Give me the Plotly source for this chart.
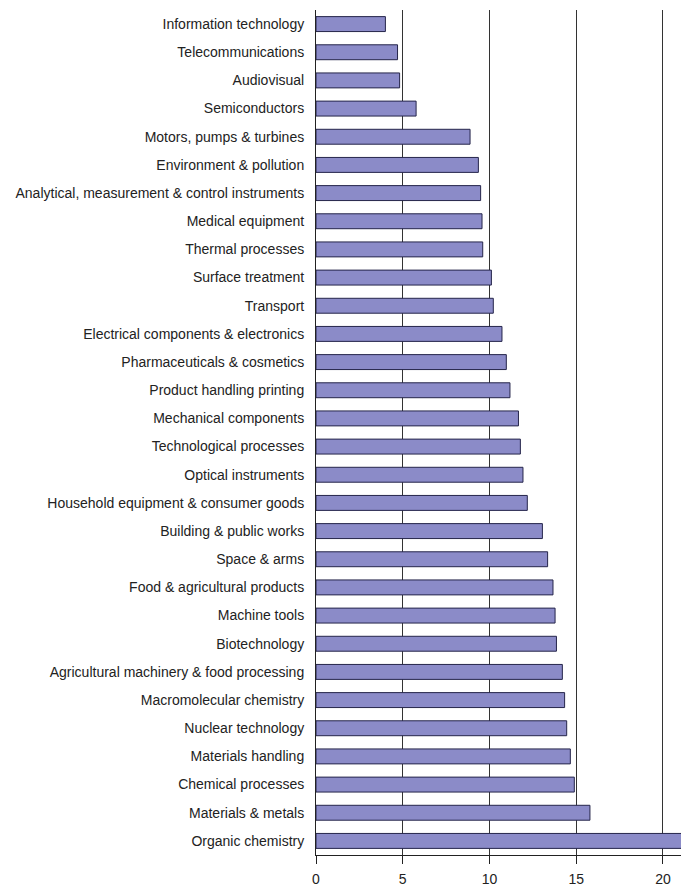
import plotly.graph_objects as go

categories = [
    "Information technology",
    "Telecommunications",
    "Audiovisual",
    "Semiconductors",
    "Motors, pumps & turbines",
    "Environment & pollution",
    "Analytical, measurement & control instruments",
    "Medical equipment",
    "Thermal processes",
    "Surface treatment",
    "Transport",
    "Electrical components & electronics",
    "Pharmaceuticals & cosmetics",
    "Product handling printing",
    "Mechanical components",
    "Technological processes",
    "Optical instruments",
    "Household equipment & consumer goods",
    "Building & public works",
    "Space & arms",
    "Food & agricultural products",
    "Machine tools",
    "Biotechnology",
    "Agricultural machinery & food processing",
    "Macromolecular chemistry",
    "Nuclear technology",
    "Materials handling",
    "Chemical processes",
    "Materials & metals",
    "Organic chemistry",
]

values = [
    4.0, 4.7, 4.82, 5.77, 8.88, 9.36, 9.49, 9.57, 9.61, 10.11,
    10.22, 10.72, 10.97, 11.18, 11.67, 11.78, 11.93, 12.18, 13.05, 13.35,
    13.66, 13.78, 13.86, 14.2, 14.33, 14.45, 14.66, 14.89, 15.79, 22.0,
]

x_ticks = [0, 5, 10, 15, 20]

fig = go.Figure(
    go.Bar(
        x=values,
        y=categories,
        orientation="h",
        marker=dict(color="#8b8bc8", line=dict(color="#25254a", width=1)),
        width=0.53,
    )
)

fig.update_layout(
    width=681,
    height=880,
    margin=dict(l=308, r=0, t=2, b=33, autoexpand=False),
    paper_bgcolor="white",
    plot_bgcolor="white",
    showlegend=False,
    font=dict(family="Liberation Sans, Arial, sans-serif", size=14, color="#222222"),
)

fig.update_xaxes(
    range=[0, 21.5],
    tickvals=x_ticks,
    ticktext=[str(t) for t in x_ticks],
    showgrid=True,
    gridcolor="#333333",
    gridwidth=1,
    zeroline=False,
    showline=True,
    linecolor="#222222",
    linewidth=1,
    ticks="outside",
    ticklen=8,
    tickcolor="#222222",
    ticklabelstandoff=3,
    tickfont=dict(size=14, color="#222222"),
)

fig.update_yaxes(
    autorange="reversed",
    showgrid=False,
    showline=True,
    linecolor="#222222",
    linewidth=1,
    ticks="",
    ticklabelstandoff=8,
    tickfont=dict(size=14, color="#222222"),
)

fig.write_html("out.html")
